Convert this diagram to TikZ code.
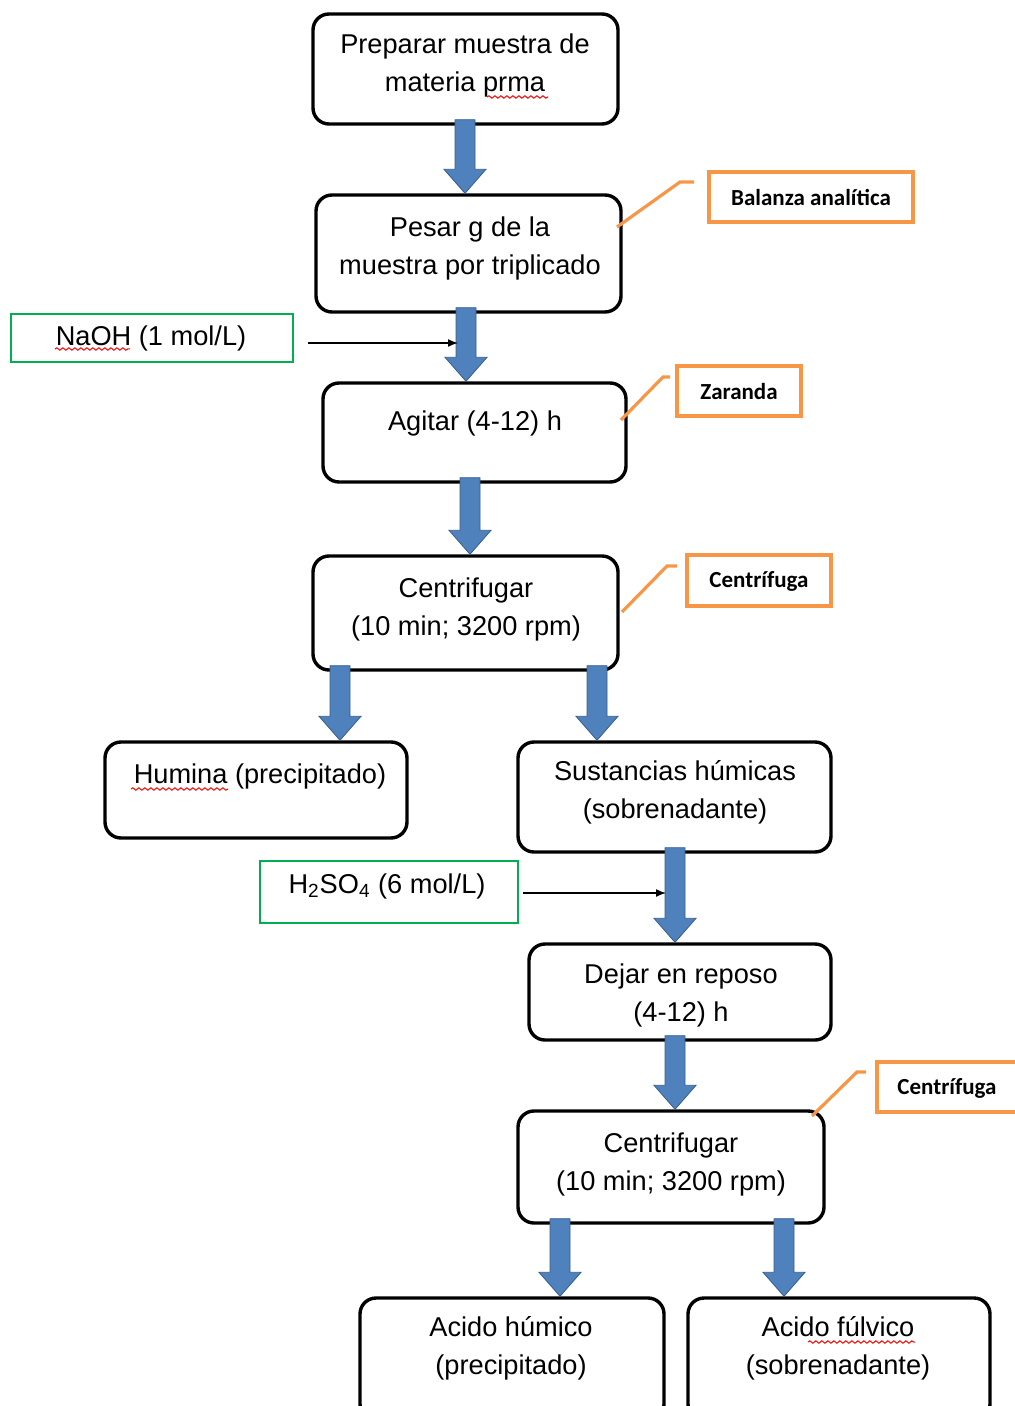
\documentclass[tikz,border=0pt]{standalone}
\usepackage{fontspec}
\setmainfont{Liberation Sans}
\newfontfamily\calfont{Carlito}
\usetikzlibrary{calc,arrows.meta,decorations.pathmorphing}
\definecolor{arrowblue}{HTML}{4F81BD}
\definecolor{arrowedge}{HTML}{385D8A}
\definecolor{calloutorange}{HTML}{F79646}
\definecolor{inputgreen}{HTML}{00B050}
\tikzset{
  stepbox/.style={draw=black, line width=1.7pt, rounded corners=8pt, inner sep=0pt},
  txt/.style={align=center, inner sep=0pt, font=\fontsize{13.6}{19}\selectfont},
  greenbox/.style={draw=inputgreen, line width=1pt, inner sep=0pt},
  orangebox/.style={draw=calloutorange, line width=1.6pt, inner sep=0pt},
  otxt/.style={inner sep=0pt, font=\calfont\bfseries\fontsize{11.5}{14}\selectfont},
  callout/.style={draw=calloutorange, line width=1.6pt},
  blockarrow/.style={fill=arrowblue, draw=arrowedge, line width=0.4pt},
  thinarrow/.style={draw=black, line width=0.7pt, -{Latex[length=5pt,width=4pt]}},
  squiggle/.style={draw=red, line width=0.5pt, decorate, decoration={snake, segment length=3pt, amplitude=0.6pt}}
}
\newcommand\barrow[3]{%
  \path (#2.south -| #1) coordinate (bs) (#3.north -| #1) coordinate (be);
  \filldraw[blockarrow] ($(bs)+(-10,-6)$) -- ($(bs)+(10,-6)$) -- ($(be)+(10,-24)$) -- ($(be)+(21,-24)$) -- (be) -- ($(be)+(-21,-24)$) -- ($(be)+(-10,-24)$) -- cycle;}
\begin{document}
\begin{tikzpicture}[x=0.5pt,y=-0.5pt]
\useasboundingbox (0,0) rectangle (1015,1406);
\clip (0,0) rectangle (1015,1406);
% step boxes
\node[stepbox, minimum width=152.5pt, minimum height=55pt] (b1) at (465.5,69) {};
\node[stepbox, minimum width=152.5pt, minimum height=58.5pt] (b2) at (468.5,253.5) {};
\node[stepbox, minimum width=151.5pt, minimum height=49.5pt] (b3) at (474.5,432.5) {};
\node[stepbox, minimum width=152.5pt, minimum height=57pt] (b4) at (465.5,613) {};
\node[stepbox, minimum width=151pt, minimum height=48pt] (b5) at (256,790) {};
\node[stepbox, minimum width=156.5pt, minimum height=55pt] (b6) at (674.5,797) {};
\node[stepbox, minimum width=151pt, minimum height=48pt] (b7) at (680,992) {};
\node[stepbox, minimum width=153pt, minimum height=56pt] (b8) at (671,1167) {};
\node[stepbox, minimum width=152pt, minimum height=61pt] (b9) at (512,1359) {};
\node[stepbox, minimum width=151pt, minimum height=61pt] (b10) at (839,1359) {};
% texts
\node[txt] (t1) at (465,65) {Preparar muestra de\\materia prma};
\node[txt] (t2) at (470,248) {Pesar g de la\\muestra por triplicado};
\node[txt] (t3) at (475,423) {Agitar (4-12) h};
\node[txt] (t4) at (466,609) {Centrifugar\\(10 min; 3200 rpm)};
\node[txt] (t5) at (260,776) {Humina (precipitado)};
\node[txt] (t6) at (675,792) {Sustancias húmicas\\(sobrenadante)};
\node[txt] (t7) at (681,995) {Dejar en reposo\\(4-12) h};
\node[txt] (t8) at (671,1164) {Centrifugar\\(10 min; 3200 rpm)};
\node[txt] (t9) at (511,1348) {Acido húmico\\(precipitado)};
\node[txt] (t10) at (838,1348) {Acido fúlvico\\(sobrenadante)};
% input boxes
\node[greenbox, minimum width=141pt, minimum height=24pt] (naoh) at (152,338) {};
\node[txt] (tnaoh) at (151,338) {NaOH (1 mol/L)};
\node[greenbox, minimum width=129pt, minimum height=31pt] (acid) at (389,892) {};
\node[txt] (tacid) at (387,886) {H\textsubscript{2}SO\textsubscript{4} (6 mol/L)};
% spelling marks
\coordinate (s1a) at (487,97); \coordinate (s1b) at (548,97);
\coordinate (s2a) at (55,349); \coordinate (s2b) at (130,349);
\coordinate (s3a) at (131,789); \coordinate (s3b) at (228,789);
\coordinate (s4a) at (808,1342); \coordinate (s4b) at (915,1342);
\draw[squiggle] (s1a) -- (s1b);
\draw[squiggle] (s2a) -- (s2b);
\draw[squiggle] (s3a) -- (s3b);
\draw[squiggle] (s4a) -- (s4b);
% callout boxes
\node[orangebox, minimum width=102pt, minimum height=25pt] (o1) at (811,197) {};
\node[otxt] (to1) at (811,198) {Balanza analítica};
\node[orangebox, minimum width=62pt, minimum height=25pt] (o2) at (739,391) {};
\node[otxt] (to2) at (739,392) {Zaranda};
\node[orangebox, minimum width=72pt, minimum height=25.5pt] (o3) at (759,580.5) {};
\node[otxt] (to3) at (759,581) {Centrífuga};
\node[orangebox, minimum width=72pt, minimum height=25pt] (o4) at (949,1087) {};
\node[otxt] (to4) at (947,1088) {Centrífuga};
% callout lines
\coordinate (c1a) at (617,227); \coordinate (c1b) at (680,182); \coordinate (c1c) at (694,182);
\coordinate (c2a) at (621,420); \coordinate (c2b) at (663,377); \coordinate (c2c) at (670,377);
\coordinate (c3a) at (622,612); \coordinate (c3b) at (667,566); \coordinate (c3c) at (677,566);
\coordinate (c4a) at (812,1116); \coordinate (c4b) at (857,1072); \coordinate (c4c) at (866,1072);
\draw[callout] (c1a) -- (c1b) -- (c1c);
\draw[callout] (c2a) -- (c2b) -- (c2c);
\draw[callout] (c3a) -- (c3b) -- (c3c);
\draw[callout] (c4a) -- (c4b) -- (c4c);
% block arrows
\coordinate (x1) at (465,0);
\coordinate (x2) at (466,0);
\coordinate (x3) at (470,0);
\coordinate (x4) at (340,0);
\coordinate (x5) at (597,0);
\coordinate (x6) at (675,0);
\coordinate (x7) at (675,0);
\coordinate (x8) at (560,0);
\coordinate (x9) at (784,0);
\barrow{x1}{b1}{b2}
\barrow{x2}{b2}{b3}
\barrow{x3}{b3}{b4}
\barrow{x4}{b4}{b5}
\barrow{x5}{b4}{b6}
\barrow{x6}{b6}{b7}
\barrow{x7}{b7}{b8}
\barrow{x8}{b8}{b9}
\barrow{x9}{b8}{b10}
% thin input arrows
\coordinate (n1) at (458,343);
\coordinate (n2) at (666,893);
\draw[thinarrow] ($(naoh.east)+(14,5)$) -- (n1);
\draw[thinarrow] ($(acid.east)+(4,1)$) -- (n2);
\end{tikzpicture}
\end{document}
